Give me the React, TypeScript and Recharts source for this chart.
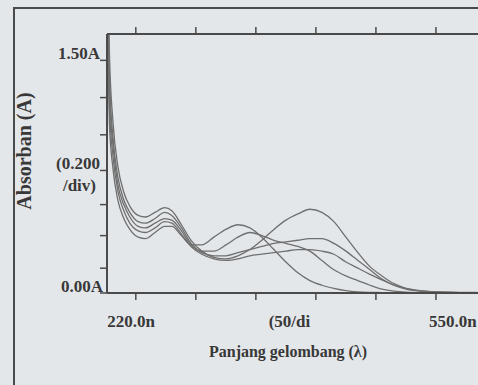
import { LineChart, Line, XAxis, YAxis } from 'recharts';

// wavelength (nm) sampled along the scan
const wavelengths = [196, 198, 201, 205, 210, 215, 222, 228, 236, 244, 250, 258, 266, 275, 285, 295, 305, 315, 325, 335, 345, 355, 365, 375, 385, 395, 405, 415, 425, 435, 445, 460, 480, 505, 550];

// absorbance of the five spectra
const spec1 = [2.4, 1.55, 1.1, 0.82, 0.65, 0.56, 0.5, 0.49, 0.52, 0.55, 0.53, 0.44, 0.34, 0.27, 0.23, 0.22, 0.24, 0.28, 0.34, 0.41, 0.47, 0.51, 0.54, 0.52, 0.46, 0.36, 0.26, 0.17, 0.11, 0.06, 0.03, 0.012, 0.005, 0.003, 0.002];
const spec2 = [1.8, 1.1, 0.8, 0.6, 0.48, 0.41, 0.36, 0.35, 0.39, 0.43, 0.43, 0.37, 0.31, 0.31, 0.36, 0.41, 0.44, 0.42, 0.36, 0.28, 0.2, 0.13, 0.08, 0.05, 0.03, 0.015, 0.007, 0.004, 0.003, 0.002, 0.002, 0.001, 0.001, 0.001, 0.001];
const spec3 = [2.0, 1.3, 0.95, 0.7, 0.57, 0.49, 0.43, 0.42, 0.45, 0.48, 0.47, 0.4, 0.31, 0.27, 0.27, 0.31, 0.36, 0.39, 0.37, 0.34, 0.32, 0.3, 0.27, 0.21, 0.15, 0.11, 0.08, 0.05, 0.025, 0.012, 0.006, 0.003, 0.002, 0.001, 0.001];
const spec4 = [2.2, 1.4, 1.0, 0.75, 0.6, 0.52, 0.46, 0.45, 0.48, 0.52, 0.5, 0.42, 0.32, 0.26, 0.24, 0.24, 0.26, 0.28, 0.3, 0.32, 0.33, 0.34, 0.35, 0.35, 0.32, 0.27, 0.21, 0.15, 0.09, 0.05, 0.025, 0.01, 0.004, 0.002, 0.001];
const spec5 = [1.9, 1.2, 0.88, 0.66, 0.53, 0.45, 0.4, 0.39, 0.42, 0.46, 0.45, 0.38, 0.3, 0.25, 0.22, 0.21, 0.22, 0.24, 0.25, 0.26, 0.27, 0.28, 0.28, 0.27, 0.25, 0.2, 0.16, 0.12, 0.085, 0.05, 0.03, 0.012, 0.004, 0.002, 0.001];

const xTickMarks = [220, 270, 320, 370, 420, 470, 520];
const xLabelTicks = [216, 348, 484];
const xLabelText = ['220.0n', '(50/di', '550.0n'];

const yTickMarks = [0, 0.16, 0.37, 0.57, 0.79, 1.02, 1.26, 1.5];
const yLabelText: Record<number, string> = { 0: '0.00A', 0.79: '(0.200', 1.5: '1.50A' };

const seriesKeys = ['s1', 's2', 's3', 's4', 's5'];
const data = wavelengths.map((nm, i) => ({
  nm,
  s1: spec1[i],
  s2: spec2[i],
  s3: spec3[i],
  s4: spec4[i],
  s5: spec5[i],
}));

const INK = '#383838';
const AXIS = '#4a4a4a';
const CURVE = '#6f6f6f';
const FONT = '"Liberation Serif", "DejaVu Serif", serif';

const EmptyTick = () => <g />;

const YTick = (props: any) => {
  const { x, y, payload } = props;
  const label = yLabelText[payload.value];
  if (!label) return <g />;
  const dx = payload.value === 0 ? 3 : 0;
  return (
    <g>
      <text x={x + dx} y={y - 1} textAnchor="end" fill={INK} fontFamily={FONT} fontWeight="bold" fontSize={17}>
        {label}
      </text>
      {payload.value === 0.79 && (
        <text x={x - 4} y={y + 21} textAnchor="end" fill={INK} fontFamily={FONT} fontWeight="bold" fontSize={17}>
          /div)
        </text>
      )}
    </g>
  );
};

const XLabelTick = (props: any) => {
  const { x, y, payload, index } = props;
  return (
    <text x={x} y={y + 26} textAnchor="middle" fill={INK} fontFamily={FONT} fontWeight="bold" fontSize={17}>
      {xLabelText[index] ?? payload.value}
    </text>
  );
};

const XTitle = (props: any) => {
  const { viewBox } = props;
  return (
    <text x={viewBox.x + 181} y={viewBox.y + 56} textAnchor="middle" fill={INK} fontFamily={FONT} fontWeight="bold" fontSize={16}>
      Panjang gelombang (λ)
    </text>
  );
};

const YTitle = (props: any) => {
  const { viewBox } = props;
  const cx = viewBox.x - 33;
  const cy = viewBox.y + 117;
  return (
    <text
      x={cx}
      y={cy}
      transform={`rotate(-90, ${cx}, ${cy})`}
      textAnchor="middle"
      dominantBaseline="central"
      fill={INK}
      fontFamily={FONT}
      fontWeight="bold"
      fontSize={20}
    >
      Absorban (A)
    </text>
  );
};

export default function App() {
  return (
    <div
      style={{
        position: 'fixed',
        left: 0,
        top: 0,
        width: 478,
        height: 385,
        overflow: 'hidden',
        background: '#e4e7ea',
      }}
    >
      <div
        style={{
          position: 'absolute',
          left: 13,
          top: 7,
          width: 500,
          height: 400,
          borderLeft: `2px solid ${AXIS}`,
          borderTop: `2px solid ${AXIS}`,
        }}
      />
      <div style={{ position: 'absolute', left: 0, top: 0 }}>
        <LineChart width={560} height={385} data={data} margin={{ top: 4, right: 28, bottom: 0, left: 57 }}>
          <XAxis
            xAxisId="x0"
            dataKey="nm"
            type="number"
            domain={[196, 550]}
            ticks={xTickMarks}
            interval={0}
            tick={<EmptyTick />}
            tickSize={7}
            height={8}
            axisLine={{ stroke: AXIS, strokeWidth: 2 }}
            tickLine={{ stroke: AXIS, strokeWidth: 1.5 }}
          />
          <XAxis
            xAxisId="x1"
            dataKey="nm"
            type="number"
            domain={[196, 550]}
            ticks={xLabelTicks}
            interval={0}
            tick={<XLabelTick />}
            tickSize={0}
            tickMargin={0}
            axisLine={false}
            tickLine={false}
            height={84}
            label={{ content: <XTitle /> }}
          />
          <XAxis
            xAxisId="x2"
            orientation="top"
            dataKey="nm"
            type="number"
            domain={[196, 550]}
            ticks={xTickMarks}
            interval={0}
            tick={<EmptyTick />}
            tickSize={7}
            height={30}
            axisLine={{ stroke: AXIS, strokeWidth: 2 }}
            tickLine={{ stroke: AXIS, strokeWidth: 1.5 }}
          />
          <YAxis
            type="number"
            domain={[0, 1.67]}
            allowDataOverflow
            ticks={yTickMarks}
            interval={0}
            width={50}
            tickSize={7}
            tickMargin={0}
            tick={<YTick />}
            axisLine={{ stroke: AXIS, strokeWidth: 2 }}
            tickLine={{ stroke: AXIS, strokeWidth: 1.5 }}
            label={{ content: <YTitle /> }}
          />
          {seriesKeys.map((k) => (
            <Line
              key={k}
              xAxisId="x0"
              dataKey={k}
              type="monotone"
              stroke={CURVE}
              strokeWidth={1.3}
              dot={false}
              isAnimationActive={false}
            />
          ))}
        </LineChart>
      </div>
    </div>
  );
}
